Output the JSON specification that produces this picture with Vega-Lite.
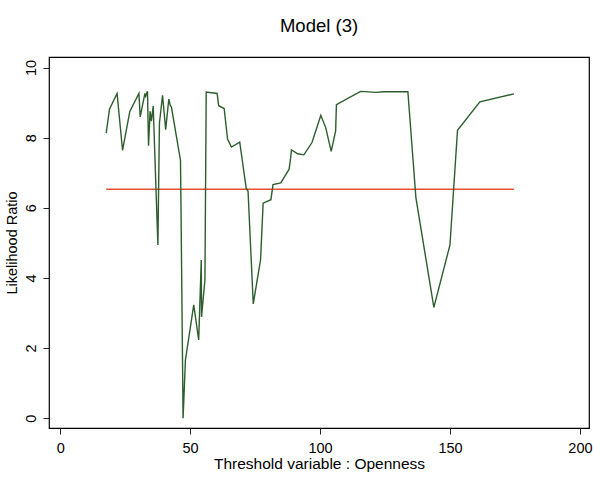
{
  "$schema": "https://vega.github.io/schema/vega-lite/v6.json",
  "autosize": {"type": "none"},
  "padding": {"left": 49, "top": 57, "right": 4, "bottom": 49},
  "width": 540,
  "height": 371,
  "background": "white",
  "config": {
    "font": "Liberation Sans",
    "view": {"stroke": "black", "strokeWidth": 1.2},
    "axis": {"grid": false, "domain": false, "tickColor": "#222", "tickSize": 6, "tickWidth": 1, "labelColor": "black", "titleColor": "black", "labelFont": "Liberation Sans", "titleFont": "Liberation Sans", "titleFontWeight": "normal", "labelFontSize": 14.5, "titleFontSize": 15.5}
  },
  "title": {"text": "Model (3)", "fontSize": 18.5, "fontWeight": "normal", "font": "Liberation Sans", "color": "black", "anchor": "middle", "offset": 22},
  "datasets": {
    "lr": [
      {"threshold": 17.7, "lr": 8.13},
      {"threshold": 19.0, "lr": 8.82},
      {"threshold": 21.9, "lr": 9.26},
      {"threshold": 24.0, "lr": 7.64},
      {"threshold": 26.8, "lr": 8.75},
      {"threshold": 30.3, "lr": 9.26},
      {"threshold": 30.8, "lr": 8.59},
      {"threshold": 32.6, "lr": 9.26},
      {"threshold": 32.9, "lr": 9.18},
      {"threshold": 33.6, "lr": 9.32},
      {"threshold": 34.0, "lr": 7.77},
      {"threshold": 34.6, "lr": 8.75},
      {"threshold": 35.1, "lr": 8.47},
      {"threshold": 35.8, "lr": 8.90},
      {"threshold": 37.6, "lr": 4.94},
      {"threshold": 38.2, "lr": 8.42},
      {"threshold": 39.4, "lr": 9.21},
      {"threshold": 40.6, "lr": 8.23},
      {"threshold": 41.8, "lr": 9.10},
      {"threshold": 42.4, "lr": 8.91},
      {"threshold": 42.8, "lr": 8.88},
      {"threshold": 46.3, "lr": 7.35},
      {"threshold": 46.4, "lr": 6.71},
      {"threshold": 47.3, "lr": 0.0},
      {"threshold": 48.2, "lr": 1.66},
      {"threshold": 51.4, "lr": 3.23},
      {"threshold": 53.3, "lr": 2.23},
      {"threshold": 54.3, "lr": 4.51},
      {"threshold": 54.4, "lr": 2.89},
      {"threshold": 55.7, "lr": 3.94},
      {"threshold": 56.2, "lr": 9.30},
      {"threshold": 60.4, "lr": 9.26},
      {"threshold": 61.0, "lr": 8.91},
      {"threshold": 63.1, "lr": 8.83},
      {"threshold": 64.4, "lr": 7.96},
      {"threshold": 65.9, "lr": 7.73},
      {"threshold": 69.1, "lr": 7.87},
      {"threshold": 71.6, "lr": 6.55},
      {"threshold": 72.3, "lr": 6.47},
      {"threshold": 74.3, "lr": 3.26},
      {"threshold": 77.1, "lr": 4.51},
      {"threshold": 78.1, "lr": 6.13},
      {"threshold": 81.1, "lr": 6.23},
      {"threshold": 81.9, "lr": 6.66},
      {"threshold": 84.9, "lr": 6.71},
      {"threshold": 88.1, "lr": 7.10},
      {"threshold": 88.6, "lr": 7.37},
      {"threshold": 89.0, "lr": 7.65},
      {"threshold": 91.4, "lr": 7.54},
      {"threshold": 93.8, "lr": 7.51},
      {"threshold": 96.9, "lr": 7.86},
      {"threshold": 100.3, "lr": 8.64},
      {"threshold": 102.2, "lr": 8.28},
      {"threshold": 104.3, "lr": 7.61},
      {"threshold": 106.0, "lr": 8.19},
      {"threshold": 106.3, "lr": 8.94},
      {"threshold": 115.6, "lr": 9.32},
      {"threshold": 121.6, "lr": 9.29},
      {"threshold": 124.3, "lr": 9.31},
      {"threshold": 133.8, "lr": 9.31},
      {"threshold": 136.9, "lr": 6.28},
      {"threshold": 143.8, "lr": 3.16},
      {"threshold": 150.0, "lr": 4.94},
      {"threshold": 152.9, "lr": 8.21},
      {"threshold": 161.5, "lr": 9.02},
      {"threshold": 174.6, "lr": 9.25}
    ],
    "cv": [
      {"start": 17.7, "end": 174.6, "critical": 6.53}
    ]
  },
  "layer": [
    {
      "data": {"name": "cv"},
      "mark": {"type": "rule", "color": "#e8502e", "strokeWidth": 1.4},
      "encoding": {
        "x": {"field": "start", "type": "quantitative", "scale": {"domain": [-4.3, 203.5], "nice": false, "zero": false}},
        "x2": {"field": "end"},
        "y": {"field": "critical", "type": "quantitative", "scale": {"domain": [-0.28, 10.3], "nice": false, "zero": false}}
      }
    },
    {
      "data": {"name": "lr"},
      "mark": {"type": "line", "color": "#2d5d2d", "strokeWidth": 1.4, "interpolate": "linear"},
      "encoding": {
        "x": {"field": "threshold", "type": "quantitative", "scale": {"domain": [-4.3, 203.5], "nice": false, "zero": false},
              "axis": {"values": [0, 50, 100, 150, 200], "title": "Threshold variable : Openness", "labelPadding": 7, "titlePadding": 2, "labelFlush": false}},
        "y": {"field": "lr", "type": "quantitative", "scale": {"domain": [-0.28, 10.3], "nice": false, "zero": false},
              "axis": {"values": [0, 2, 4, 6, 8, 10], "title": "Likelihood Ratio", "titleFontSize": 14.5, "labelAngle": 270, "labelAlign": "center", "labelBaseline": "bottom", "labelPadding": 5, "titlePadding": 4, "labelFlush": false}}
      }
    }
  ]
}
